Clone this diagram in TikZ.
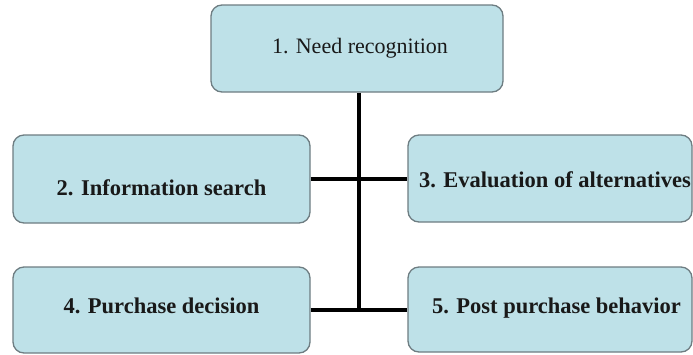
\documentclass[tikz,border=0pt]{standalone}
\usepackage{fontspec}
\setmainfont{Liberation Serif}
\definecolor{boxfill}{RGB}{190,225,232}
\definecolor{boxline}{RGB}{110,125,130}
\begin{document}
\begin{tikzpicture}[x=1pt,y=-1pt,
  stagebox/.style={draw=boxline,line width=1.3pt,fill=boxfill,rounded corners=11pt,inner sep=0pt},
  normtext/.style={font=\fontsize{22}{26}\selectfont,inner sep=0pt,anchor=base,text=black!90},
  boldtext/.style={font=\bfseries\fontsize{22.5}{26}\selectfont,inner sep=0pt,anchor=base,text=black!90},
  link/.style={line width=3.4pt,black}]
\useasboundingbox (0,0) rectangle (693,354);
\fill[white] (0,0) rectangle (693,354);
\node[stagebox,minimum width=292pt,minimum height=87pt] (b1) at (357,48.5) {};
\node[stagebox,minimum width=297pt,minimum height=88pt] (b2) at (161.5,179) {};
\node[stagebox,minimum width=284pt,minimum height=87pt] (b3) at (550,178.5) {};
\node[stagebox,minimum width=297pt,minimum height=86pt] (b4) at (161.5,310) {};
\node[stagebox,minimum width=284pt,minimum height=85pt] (b5) at (550,309.5) {};
\node[normtext] (t1) at (360,53) {1. Need recognition};
\node[boldtext] (t2) at (161.5,195) {2. Information search};
\node[boldtext] (t3) at (555,187) {3. Evaluation of alternatives};
\node[boldtext] (t4) at (161.5,313) {4. Purchase decision};
\node[boldtext] (t5) at (556.5,313) {5. Post purchase behavior};
\coordinate (j1) at (359,179);
\coordinate (j2) at (359,310);
\draw[link] (b1.south -| j1) -- (j2);
\draw[link] (b2.east) -- (b3.west |- b2.east);
\draw[link] (b4.east) -- (b5.west |- b4.east);
\end{tikzpicture}
\end{document}
